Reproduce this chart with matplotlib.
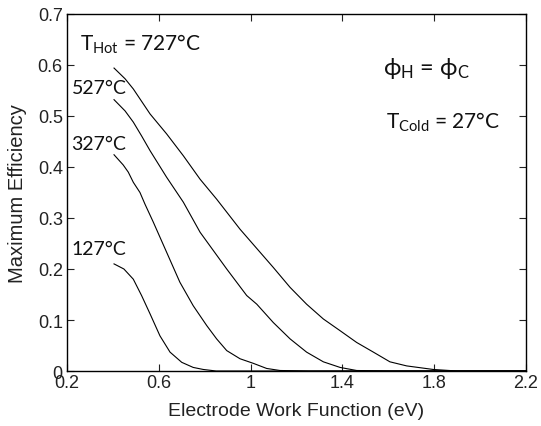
import matplotlib
matplotlib.use('Agg')
import matplotlib.pyplot as plt

plt.rcParams['font.family'] = ['Liberation Sans', 'DejaVu Sans']
plt.rcParams['mathtext.fontset'] = 'custom'
plt.rcParams['mathtext.rm'] = 'Lato'
plt.rcParams['mathtext.it'] = 'Lato'
plt.rcParams['mathtext.fallback'] = 'stixsans'

# curves (x in eV, y = max efficiency)
x_727 = [0.405, 0.453, 0.489, 0.562, 0.634, 0.707, 0.780, 0.852, 0.954, 1.041, 1.099, 1.172,
         1.244, 1.317, 1.390, 1.462, 1.535, 1.607, 1.680, 1.796, 1.90, 2.2]
y_727 = [0.594, 0.573, 0.553, 0.504, 0.465, 0.422, 0.376, 0.337, 0.278, 0.233, 0.203, 0.164,
         0.131, 0.102, 0.079, 0.056, 0.037, 0.018, 0.010, 0.003, 0.0, 0.0]

x_527 = [0.405, 0.453, 0.489, 0.525, 0.562, 0.634, 0.707, 0.780, 0.896, 0.983, 1.027, 1.099,
         1.172, 1.244, 1.317, 1.390, 1.462, 1.60, 2.2]
y_527 = [0.532, 0.510, 0.488, 0.461, 0.432, 0.380, 0.331, 0.272, 0.200, 0.148, 0.131, 0.095,
         0.063, 0.037, 0.018, 0.007, 0.001, 0.0, 0.0]

x_327 = [0.405, 0.445, 0.467, 0.489, 0.518, 0.540, 0.576, 0.634, 0.692, 0.750, 0.809, 0.852,
         0.896, 0.954, 1.012, 1.070, 1.128, 1.25, 2.2]
y_327 = [0.424, 0.404, 0.390, 0.370, 0.350, 0.327, 0.292, 0.233, 0.174, 0.128, 0.089, 0.063,
         0.040, 0.024, 0.015, 0.005, 0.001, 0.0, 0.0]

x_127 = [0.405, 0.448, 0.489, 0.525, 0.562, 0.605, 0.649, 0.700, 0.750, 0.794, 0.85, 2.2]
y_127 = [0.210, 0.200, 0.180, 0.148, 0.112, 0.069, 0.037, 0.017, 0.007, 0.003, 0.0, 0.0]

xticks = [0.2, 0.6, 1.0, 1.4, 1.8, 2.2]
xtick_labels = ['0.2', '0.6', '1', '1.4', '1.8', '2.2']
yticks = [0, 0.1, 0.2, 0.3, 0.4, 0.5, 0.6, 0.7]
ytick_labels = ['0', '0.1', '0.2', '0.3', '0.4', '0.5', '0.6', '0.7']

fig = plt.figure(figsize=(5.41, 4.27), dpi=100)
ax = fig.add_axes([0.1238, 0.1288, 0.8485, 0.8361])

for xs, ys in [(x_727, y_727), (x_527, y_527), (x_327, y_327), (x_127, y_127)]:
    ax.plot(xs, ys, color='black', linewidth=0.8)

ax.set_xlim(0.2, 2.2)
ax.set_ylim(0, 0.7)
ax.set_xticks(xticks)
ax.set_xticklabels(xtick_labels)
ax.set_yticks(yticks)
ax.set_yticklabels(ytick_labels)
ax.tick_params(direction='in', length=5, width=0.8, top=True, right=True,
               labelsize=13, colors='#222222', pad=2)
ax.tick_params(axis='y', pad=3)
for s in ax.spines.values():
    s.set_linewidth(1.0)

ax.set_xlabel('Electrode Work Function (eV)', fontsize=14, color='#222222', labelpad=8)
ax.set_ylabel('Maximum Efficiency', fontsize=14.5, color='#222222', labelpad=8)

lab = dict(family=['Lato', 'DejaVu Sans'], color='#111111')
ax.text(0.257, 0.643, r'$\mathregular{T_{Hot}}$ = 727°C', fontsize=15, va='center', **lab)
ax.text(0.22, 0.555, '527°C', fontsize=14, va='center', **lab)
ax.text(0.22, 0.447, '327°C', fontsize=14, va='center', **lab)
ax.text(0.22, 0.24, '127°C', fontsize=14, va='center', **lab)
ax.text(1.577, 0.595, r'$\mathregular{\phi_H}$ = $\mathregular{\phi_C}$', fontsize=17, va='center', **lab)
ax.text(1.59, 0.49, r'$\mathregular{T_{Cold}}$ = 27°C', fontsize=15, va='center', **lab)

fig.savefig('out.png', dpi=100)
